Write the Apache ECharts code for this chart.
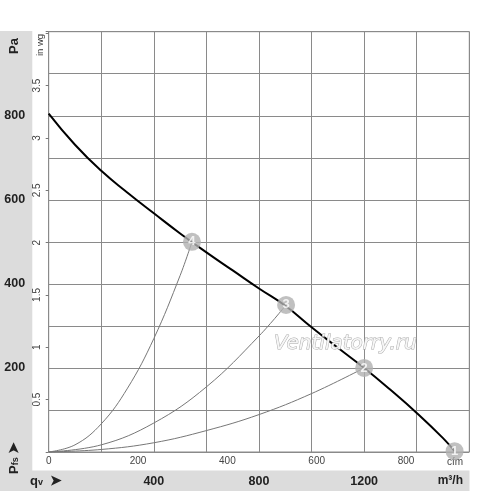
<!DOCTYPE html>
<html><head><meta charset="utf-8">
<script src="https://cdn.jsdelivr.net/npm/echarts@6/dist/echarts.min.js"></script>
<style>html,body{margin:0;padding:0;background:#fff}#c{width:500px;height:491px}</style>
</head><body><div id="c"></div>
<script>
// Fan curve: airflow qv (m³/h) vs static pressure (Pa)
const fanQ = [0, 100, 200, 300, 400, 500, 600, 700, 800, 900, 1000, 1100, 1200, 1300, 1400, 1500, 1544];
const fanP = [805, 731, 669, 617, 568, 520, 475, 432, 389, 348, 297, 248, 200, 148, 93, 33, 2];
// System (throttle) curves 2,3,4
const sys4Q = [0, 100, 200, 300, 400, 500, 545];
const sys4P = [0, 17, 67, 152, 270, 420, 500];
const sys3Q = [0, 200, 400, 600, 800, 903];
const sys3P = [0, 17, 69, 155, 276, 350];
const sys2Q = [0, 200, 400, 600, 800, 1000, 1200];
const sys2P = [0, 6, 22, 51, 89, 139, 200];
// Operating points
const ptLabels = ['1', '2', '3', '4'];
const ptQ = [1544, 1200, 903, 545];
const ptP = [2, 200, 350, 500];
// Axis ticks
const paLabels = [200, 400, 600, 800];
const qvLabels = [400, 800, 1200];
const M3H_PER_CFM = 1.699;
const PA_PER_INWG = 249.09;

const zip = (a, b) => a.map((v, i) => [v, b[i]]);
const font = '"Liberation Sans", Arial, sans-serif';
const chart = echarts.init(document.getElementById('c'));
const gridColor = '#8a8a8a';

chart.setOption({
  animation: false,
  textStyle: { fontFamily: font },
  graphic: [
    { type: 'rect', shape: { x: 0, y: 31, width: 32.3, height: 460 }, style: { fill: '#dcdcdc' }, z: -10 },
    { type: 'rect', shape: { x: 0, y: 470.5, width: 469.5, height: 21 }, style: { fill: '#dcdcdc' }, z: -10 },
    { type: 'text', x: 14, y: 46, rotation: Math.PI / 2, style: { text: 'Pa', font: 'bold 13px ' + font, fill: '#222', align: 'center', verticalAlign: 'middle' } },
    { type: 'text', x: 40, y: 45, rotation: Math.PI / 2, style: { text: 'in wg', font: '9.5px ' + font, fill: '#333', align: 'center', verticalAlign: 'middle' } },
    { type: 'text', x: 14, y: 458, rotation: Math.PI / 2, style: { text: '{p|P}{s|fs} {a|➤}', align: 'center', verticalAlign: 'middle',
        rich: { p: { font: 'bold 13px ' + font, fill: '#222' }, s: { font: 'bold 9px ' + font, fill: '#222', padding: [4, 0, 0, 0] }, a: { font: 'bold 14px ' + font, fill: '#222' } } } },
    { type: 'text', x: 30, y: 481, style: { text: '{q|q}{v|v}  {a|➤}', verticalAlign: 'middle',
        rich: { q: { font: 'bold 13px ' + font, fill: '#222' }, v: { font: 'bold 9px ' + font, fill: '#222', padding: [4, 0, 0, 0] }, a: { font: 'bold 14px ' + font, fill: '#222' } } } },
    { type: 'text', x: 463, y: 481, style: { text: 'm³/h', font: 'bold 12px ' + font, fill: '#222', align: 'right', verticalAlign: 'middle' } },
    { type: 'text', x: 455, y: 462, style: { text: 'cfm', font: '10px ' + font, fill: '#444', align: 'center', verticalAlign: 'middle' }, z: 1 },
    { type: 'text', x: 274, y: 344, style: { text: 'Ventilatorry.ru', font: 'italic 20px "DejaVu Sans", sans-serif', fill: '#f6f6f6', stroke: '#ababab', lineWidth: 1, align: 'left', verticalAlign: 'middle' }, z: 5 }
  ],
  grid: { left: 48.7, right: 30.7, top: 31.7, bottom: 39, show: true, borderColor: gridColor, borderWidth: 1, backgroundColor: '#fff' },
  xAxis: [
    { type: 'value', min: 0, max: 1600, interval: 200, position: 'bottom',
      axisLine: { show: false }, axisTick: { show: false },
      splitLine: { show: true, lineStyle: { color: gridColor, width: 1 } },
      axisLabel: { margin: 23, fontSize: 12.5, fontWeight: 'bold', color: '#222', fontFamily: font,
        formatter: v => qvLabels.includes(v) ? String(v) : '' } },
    { type: 'value', min: 0, max: 1600 / M3H_PER_CFM, interval: 200, position: 'bottom',
      axisLine: { show: false }, axisTick: { show: false }, splitLine: { show: false },
      axisLabel: { margin: 4, fontSize: 10, color: '#444', fontFamily: font, showMaxLabel: false } }
  ],
  yAxis: [
    { type: 'value', min: 0, max: 1000, interval: 100, position: 'left',
      axisLine: { show: false }, axisTick: { show: false },
      splitLine: { show: true, lineStyle: { color: gridColor, width: 1 } },
      axisLabel: { margin: 34, align: 'center', fontSize: 12.5, fontWeight: 'bold', color: '#222', fontFamily: font,
        formatter: v => paLabels.includes(v) ? String(v) : '' } },
    { type: 'value', min: 0, max: 1000 / PA_PER_INWG, interval: 0.5, position: 'left',
      axisLine: { show: false }, axisTick: { show: true, length: 3, lineStyle: { color: '#777' } },
      splitLine: { show: false },
      axisLabel: { margin: 6, rotate: 90, fontSize: 10, color: '#444', fontFamily: font,
        formatter: v => (v > 0.01 && v < 3.9) ? String(v) : '' } }
  ],
  series: [
    { type: 'line', data: zip(sys4Q, sys4P), smooth: 0.4, symbol: 'none', lineStyle: { color: '#777', width: 1 }, z: 3 },
    { type: 'line', data: zip(sys3Q, sys3P), smooth: 0.4, symbol: 'none', lineStyle: { color: '#777', width: 1 }, z: 3 },
    { type: 'line', data: zip(sys2Q, sys2P), smooth: 0.4, symbol: 'none', lineStyle: { color: '#777', width: 1 }, z: 3 },
    { type: 'line', data: zip(fanQ, fanP), smooth: true, symbol: 'none', lineStyle: { color: '#000', width: 2 }, z: 4 },
    { type: 'scatter', data: ptQ.map((q, i) => ({ value: [q, ptP[i]], name: ptLabels[i] })), symbol: 'circle', symbolSize: 18,
      itemStyle: { color: '#b0b0b0' }, z: 6,
      label: { show: true, position: 'inside', formatter: p => p.name, color: '#ffffff', fontWeight: 'bold', fontSize: 13, fontFamily: font } }
  ]
});
</script></body></html>
